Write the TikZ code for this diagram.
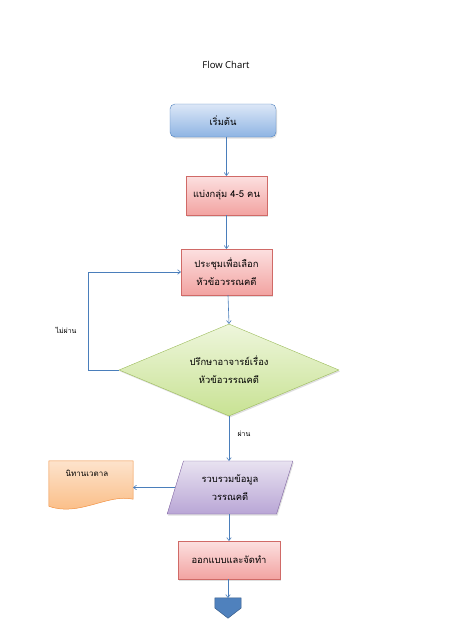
\documentclass[tikz,border=0pt]{standalone}
\usepackage{fontspec}
\setmainfont{Open Sans}
\newfontfamily\thaifont[Script=Thai]{Loma}
\usetikzlibrary{shapes.geometric,arrows.meta,shadows,calc}
\definecolor{linkc}{HTML}{4A7EBB}
\definecolor{HTML4F81BD}{HTML}{4F81BD}
\definecolor{HTMLDCE7F7}{HTML}{DCE7F7}
\definecolor{HTML8EB4E3}{HTML}{8EB4E3}
\definecolor{HTMLC0504D}{HTML}{D06A67}
\definecolor{HTMLFCE0E0}{HTML}{FCE0E0}
\definecolor{HTMLF29D9B}{HTML}{F2A3A1}
\definecolor{HTML9BBB59}{HTML}{9BBB59}
\definecolor{HTMLEAF3D8}{HTML}{EEF6DC}
\definecolor{HTMLC3D69B}{HTML}{C8E293}
\definecolor{HTML8064A2}{HTML}{8064A2}
\definecolor{HTMLE6E0EE}{HTML}{E8E2F0}
\definecolor{HTMLB3A2C7}{HTML}{B9A6D6}
\definecolor{docfill1}{HTML}{FDE3CC}
\definecolor{docfill2}{HTML}{FAB97E}
\definecolor{docdraw}{HTML}{F79646}
\definecolor{offfill}{HTML}{4F81BD}
\definecolor{offdraw}{HTML}{385D8A}
\tikzset{
  base/.style={font=\thaifont\fontsize{9.4}{18}\selectfont, align=center, inner sep=0pt,
     drop shadow={opacity=0.25, shadow xshift=1pt, shadow yshift=-1.5pt}},
  bluebox/.style={base, rectangle, rounded corners=5pt, draw=HTML4F81BD, top color=HTMLDCE7F7, bottom color=HTML8EB4E3},
  redbox/.style={base, rectangle, draw=HTMLC0504D, top color=HTMLFCE0E0, bottom color=HTMLF29D9B},
  greendia/.style={base, diamond, aspect=2.4, draw=HTML9BBB59, top color=HTMLEAF3D8, bottom color=HTMLC3D69B},
  purplepar/.style={base, trapezium, trapezium left angle=69, trapezium right angle=111, trapezium stretches=true, draw=HTML8064A2, top color=HTMLE6E0EE, bottom color=HTMLB3A2C7},
  conn/.style={draw=linkc, line width=0.6pt, -{To[length=3.5pt,width=5pt]}},
  lab/.style={font=\thaifont\fontsize{7}{8}\selectfont, inner sep=0pt}
}
\begin{document}
\begin{tikzpicture}[x=1pt,y=-1pt]
\useasboundingbox (0,0) rectangle (453,640);
\node[font=\fontsize{9.5}{11}\selectfont] (title) at (226,65) {Flow Chart};

\node[bluebox, minimum width=106pt, minimum height=33pt] (start) at (223,120.5) {เริ่มต้น};
\node[redbox, minimum width=81pt, minimum height=39pt] (group) at (226.5,195.5) {แบ่งกลุ่ม 4-5 คน};
\node[redbox, minimum width=91pt, minimum height=46pt] (meet) at (226.5,272) {ประชุมเพื่อเลือก\\หัวข้อวรรณคดี};
\node[greendia, minimum width=220pt, minimum height=92pt] (ask) at (229,370) {ปรึกษาอาจารย์เรื่อง\\หัวข้อวรรณคดี};
\node[purplepar, minimum width=126pt, minimum height=53pt] (collect) at (230,487.5) {รวบรวมข้อมูล\\วรรณคดี};
\node[redbox, minimum width=102pt, minimum height=38pt] (design) at (229,560) {ออกแบบและจัดทำ};

% document shape
\node[inner sep=0pt, minimum width=84pt, minimum height=46pt] (doc) at (91,484) {};
\fill[black, opacity=0.2, xshift=1pt, yshift=-1.5pt]
  (doc.north west) -- (doc.north east) -- ($(doc.south east)+(0,-8)$)
  .. controls ($(doc.south east)+(-25,-14)$) and ($(doc.south west)+(30,10)$) .. ($(doc.south west)+(0,-1)$) -- cycle;
\shade[top color=docfill1, bottom color=docfill2, draw=docdraw, line width=0.5pt]
  (doc.north west) -- (doc.north east) -- ($(doc.south east)+(0,-8)$)
  .. controls ($(doc.south east)+(-25,-14)$) and ($(doc.south west)+(30,10)$) .. ($(doc.south west)+(0,-1)$) -- cycle;
\node[lab, font=\thaifont\fontsize{8}{9}\selectfont] (doctext) at ($(doc.center)+(-4,-11)$) {นิทานเวตาล};

% off-page connector
\node[inner sep=0pt, minimum width=26pt, minimum height=20pt] (off) at (228,608) {};
\fill[offfill, draw=offdraw, line width=0.5pt]
  (off.north west) -- (off.north east) -- (off.east) -- (off.south) -- (off.west) -- cycle;

% connectors
\draw[conn] (start.south -| group.north) -- (group.north);
\draw[conn] (group.south) -- (meet.north);
\draw[conn] (meet.south -| 228,0) -- (ask.north);
\draw[conn] (ask.south) -- (ask.south |- collect.north);
\draw[conn] (ask.west) -- ++(-31,0) |- (meet.west);
\draw[conn] (collect.west) -- (collect.west -| doc.east);
\draw[conn] (collect.south -| design.north) -- (design.north);
\draw[conn] (design.south -| off.north) -- (off.north);

\node[lab] (fail) at (66,330) {ไม่ผ่าน};
\node[lab] (pass) at (244,434) {ผ่าน};
\end{tikzpicture}
\end{document}
